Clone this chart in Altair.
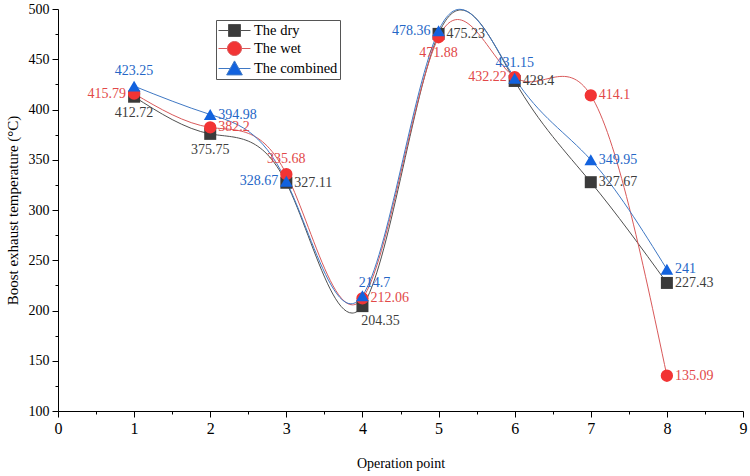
import altair as alt
import pandas as pd

# ---- data ----
operation_points = [1, 2, 3, 4, 5, 6, 7, 8]
series_names = ["The dry", "The wet", "The combined"]
dry = [412.72, 375.75, 327.11, 204.35, 475.23, 428.4, 327.67, 227.43]
wet = [415.79, 382.2, 335.68, 212.06, 471.88, 432.22, 414.1, 135.09]
combined = [423.25, 394.98, 328.67, 214.7, 478.36, 431.15, 349.95, 241]

x_tick_values = [i * 0.5 for i in range(19)]
y_tick_values = [100 + 25 * i for i in range(17)]

# ---- styling ----
marker_colors = ["#3a3a3a", "#f23434", "#1262de"]
line_colors = ["#505050", "#d9595a", "#3f78c4"]
label_colors = ["#3d3d3d", "#e24848", "#2466c6"]
marker_shapes = ["square", "circle", "triangle-up"]
marker_sizes = [144, 160, 210]
legend_shapes = [
    "M-1,0H0.25M1.75,0H3M0.25,-0.75H1.75V0.75H0.25Z",
    "M-1,0H0.125M1.875,0H3M0.125,0A0.875,0.875 0 1,0 1.875,0A0.875,0.875 0 1,0 0.125,0Z",
    "M-1,0H0.47M1.53,0H3M1,-0.95L1.98,0.8H0.02Z",
]

# label placement for each point (annotation layout, not data)
label_places = {
    "The dry": ["below", "below", "right", "belowright", "right", "right", "right", "right"],
    "The wet": ["left", "right", "above", "right", "below", "left", "right", "right"],
    "The combined": ["above", "right", "left", "aboveright", "left", "above", "right", "right"],
}
placements = {
    "right": ("left", 8, 0),
    "left": ("right", -8, 0),
    "above": ("center", 0, -15),
    "below": ("center", 0, 16),
    "belowright": ("center", 18, 15),
    "aboveright": ("center", 12, -13),
}

values = {"The dry": dry, "The wet": wet, "The combined": combined}
rows = []
for s in series_names:
    for i, (xv, yv) in enumerate(zip(operation_points, values[s])):
        rows.append({"series": s, "x": xv, "y": yv, "label": f"{yv:g}",
                     "place": label_places[s][i], "order": i})
df = pd.DataFrame(rows)

FONT = "Liberation Serif"

x_enc = alt.X(
    "x:Q",
    scale=alt.Scale(domain=[0, 9], nice=False, zero=False),
    axis=alt.Axis(
        title="Operation point", values=x_tick_values, grid=False,
        labelExpr="datum.value % 1 === 0 ? format(datum.value, 'd') : ''",
        tickSize={"condition": {"test": "datum.value % 1 === 0", "value": 6}, "value": 3},
        tickColor="black", domainColor="black", labelColor="black",
        labelFont=FONT, labelFontSize=16, labelPadding=3, labelFlush=False,
        titleFont=FONT, titleFontSize=14, titleFontWeight="normal", titleColor="black",
        titleX=342.5, titleY=52, titleBaseline="middle",
    ),
)
y_enc = alt.Y(
    "y:Q",
    scale=alt.Scale(domain=[100, 500], nice=False, zero=False),
    axis=alt.Axis(
        title="Boost exhaust temperature (°C)", values=y_tick_values, grid=False,
        labelExpr="datum.value % 50 === 0 ? datum.label : ''",
        tickSize={"condition": {"test": "datum.value % 50 === 0", "value": 6}, "value": 3},
        tickColor="black", domainColor="black", labelColor="black",
        labelFont=FONT, labelFontSize=14, labelPadding=3, labelFlush=False,
        titleFont=FONT, titleFontSize=15, titleFontWeight="normal", titleColor="black",
        titleX=-46, titleY=201, titleBaseline="middle", titleAngle=-90,
    ),
)

base = alt.Chart(df)

lines = base.mark_line(interpolate="natural", strokeWidth=1).encode(
    x=x_enc, y=y_enc,
    color=alt.Color("series:N", scale=alt.Scale(domain=series_names, range=line_colors), legend=None),
    detail="series:N",
    order="order:Q",
)

points = base.mark_point(filled=True, opacity=1).encode(
    x=x_enc, y=y_enc,
    color=alt.Color("series:N", scale=alt.Scale(domain=series_names, range=marker_colors), legend=None),
    shape=alt.Shape("series:N", scale=alt.Scale(domain=series_names, range=marker_shapes), legend=None),
    size=alt.Size("series:N", scale=alt.Scale(domain=series_names, range=marker_sizes), legend=None),
)

text_layers = []
for place, (align, dx, dy) in placements.items():
    text_layers.append(
        base.transform_filter(alt.datum.place == place)
        .mark_text(align=align, baseline="middle", dx=dx, dy=dy, font=FONT, fontSize=14)
        .encode(
            x=x_enc, y=y_enc, text="label:N",
            color=alt.Color("series:N", scale=alt.Scale(domain=series_names, range=label_colors), legend=None),
        )
    )

leg = alt.Legend(
    title=None, orient="none", legendX=158, legendY=11, direction="vertical",
    fillColor="white", strokeColor="#555555", padding=2,
    labelFont=FONT, labelFontSize=14.5, labelColor="black", labelOffset=19,
    symbolSize=256, symbolStrokeWidth=1, symbolOpacity=1, rowPadding=0,
)
ghost = base.mark_point(filled=True, opacity=0, size=256, strokeWidth=1).encode(
    x=x_enc, y=y_enc,
    color=alt.Color("series:N", scale=alt.Scale(domain=series_names, range=marker_colors), legend=leg),
    stroke=alt.Stroke("series:N", scale=alt.Scale(domain=series_names, range=line_colors), legend=leg),
    shape=alt.Shape("series:N", scale=alt.Scale(domain=series_names, range=legend_shapes), legend=leg),
)

chart = (
    alt.layer(lines, points, *text_layers, ghost)
    .resolve_scale(color="independent", shape="independent", stroke="independent", size="independent")
    .properties(
        width=685, height=402,
        autosize=alt.AutoSizeParams(type="none"),
        padding={"left": 58, "top": 9, "right": 7, "bottom": 65},
        background="white",
    )
    .configure_view(stroke="transparent")
)

chart.save("out.html", embed_options={"renderer": "svg", "actions": False})
